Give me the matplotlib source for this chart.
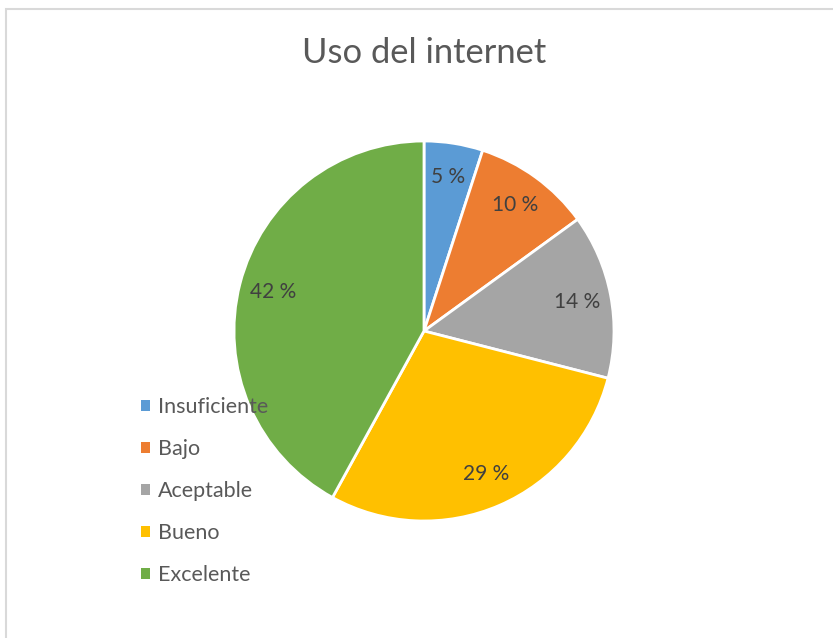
import matplotlib
matplotlib.use("Agg")
import matplotlib.pyplot as plt
from matplotlib.patches import Rectangle

categories = ["Insuficiente", "Bajo", "Aceptable", "Bueno", "Excelente"]
values = [5, 10, 14, 29, 42]
colors = ["#5B9BD5", "#ED7D31", "#A5A5A5", "#FFC000", "#70AD47"]
title = "Uso del internet"

plt.rcParams['font.family'] = ['Lato', 'DejaVu Sans']

W, H = 833, 638
fig = plt.figure(figsize=(W / 100, H / 100), dpi=100)
fig.patch.set_facecolor("white")

# chart border
fig.patches.append(Rectangle((6 / W, -0.05), 1.2, (H - 9) / H + 0.05,
                             transform=fig.transFigure, fill=False,
                             edgecolor="#d9d9d9", linewidth=1.5))

cx, cy, r = 424, 331, 190
ax = fig.add_axes([(cx - r) / W, (H - cy - r) / H, 2 * r / W, 2 * r / H])
wedges, texts, autotexts = ax.pie(
    values, colors=colors, startangle=90, counterclock=False,
    autopct=lambda p: f"{round(p)} %", pctdistance=0.82,
    wedgeprops=dict(edgecolor="white", linewidth=2),
    textprops=dict(color="#404040", fontsize=15))
ax.set_xlim(-1, 1)
ax.set_ylim(-1, 1)
ax.set_aspect("auto")

fig.text(cx / W, 1 - 53 / H, title, ha="center", va="center",
         fontsize=24.8, color="#595959")

fs = 15.5
leg = fig.legend(wedges, categories, loc="upper left",
                 bbox_to_anchor=(141 / W, 1 - 397 / H), frameon=False,
                 borderaxespad=0, borderpad=0,
                 handlelength=6.5 / fs, handleheight=6.5 / fs,
                 handletextpad=6.0 / fs,
                 labelspacing=1.02, fontsize=fs, labelcolor="#595959")
for h in leg.legend_handles:
    h.set_edgecolor("none")

fig.savefig("out.png", dpi=100)
